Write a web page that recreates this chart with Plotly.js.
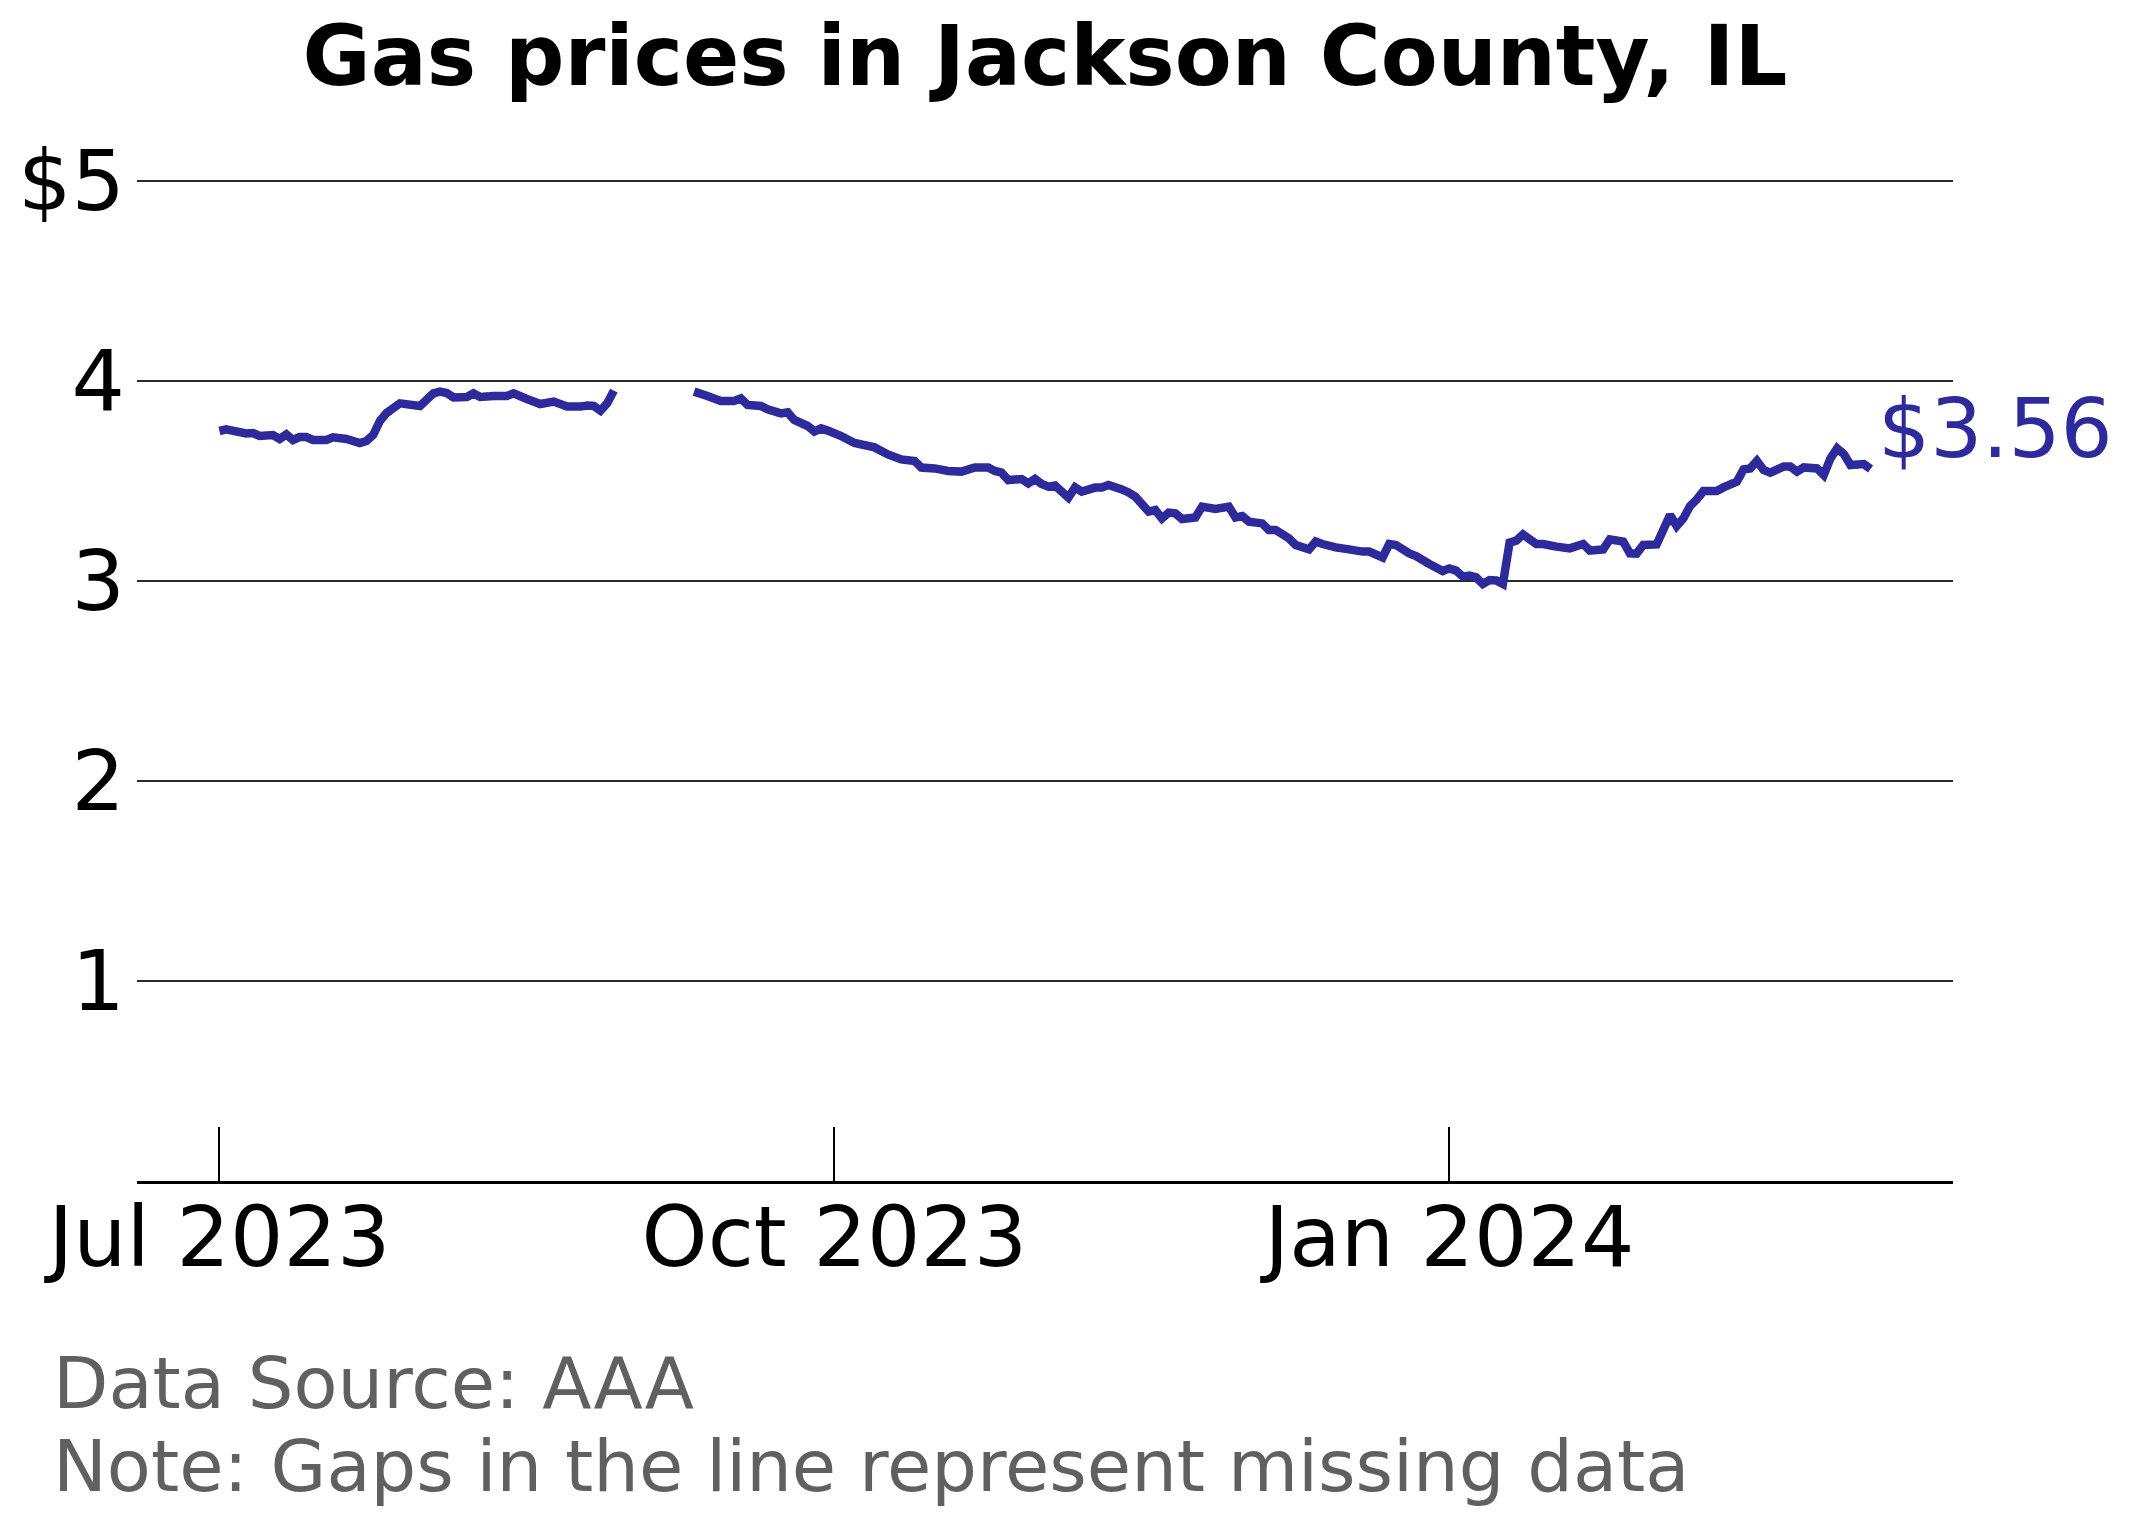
<!DOCTYPE html>
<html>
<head>
<meta charset="utf-8">
<script src="https://cdn.plot.ly/plotly-3.0.1.min.js"></script>
<style>
  html, body { margin: 0; padding: 0; background: #ffffff; }
  #chart { width: 2132px; height: 1524px; }
</style>
</head>
<body>
<div id="chart"></div>
<script>
// ── Datos: precio medio diario (USD/galón) ─────────────────────────────────
// null = día sin datos (hueco en la línea)
const fechas = [
  '2023-07-01', '2023-07-02', '2023-07-05', '2023-07-06', '2023-07-07', '2023-07-09',
  '2023-07-10', '2023-07-11', '2023-07-12', '2023-07-13', '2023-07-14', '2023-07-15',
  '2023-07-17', '2023-07-18', '2023-07-20', '2023-07-22', '2023-07-23', '2023-07-24',
  '2023-07-25', '2023-07-26', '2023-07-28', '2023-07-31', '2023-08-02', '2023-08-03',
  '2023-08-04', '2023-08-05', '2023-08-07', '2023-08-08', '2023-08-09', '2023-08-11',
  '2023-08-13', '2023-08-14', '2023-08-16', '2023-08-18', '2023-08-20', '2023-08-22',
  '2023-08-24', '2023-08-25', '2023-08-26', '2023-08-27', '2023-08-28', '2023-08-29',
  '2023-09-03',
  '2023-09-10', '2023-09-12', '2023-09-14', '2023-09-16', '2023-09-17', '2023-09-18',
  '2023-09-20', '2023-09-21', '2023-09-23', '2023-09-24', '2023-09-25', '2023-09-27',
  '2023-09-28', '2023-09-29', '2023-09-30', '2023-10-02', '2023-10-04', '2023-10-07',
  '2023-10-09', '2023-10-11', '2023-10-13', '2023-10-14', '2023-10-16', '2023-10-18',
  '2023-10-20', '2023-10-22', '2023-10-24', '2023-10-25', '2023-10-26', '2023-10-27',
  '2023-10-29', '2023-10-30', '2023-10-31', '2023-11-01', '2023-11-02', '2023-11-03',
  '2023-11-05', '2023-11-06', '2023-11-07', '2023-11-09', '2023-11-10', '2023-11-11',
  '2023-11-13', '2023-11-14', '2023-11-15', '2023-11-17', '2023-11-18', '2023-11-19',
  '2023-11-20', '2023-11-21', '2023-11-22', '2023-11-24', '2023-11-25', '2023-11-27',
  '2023-11-29', '2023-11-30', '2023-12-01', '2023-12-02', '2023-12-04', '2023-12-05',
  '2023-12-06', '2023-12-08', '2023-12-09', '2023-12-11', '2023-12-12', '2023-12-13',
  '2023-12-15', '2023-12-17', '2023-12-19', '2023-12-20', '2023-12-22', '2023-12-23',
  '2023-12-24', '2023-12-26', '2023-12-27', '2023-12-29', '2023-12-31', '2024-01-01',
  '2024-01-02', '2024-01-03', '2024-01-04', '2024-01-05', '2024-01-06', '2024-01-07',
  '2024-01-08', '2024-01-09', '2024-01-10', '2024-01-11', '2024-01-12', '2024-01-14',
  '2024-01-15', '2024-01-17', '2024-01-19', '2024-01-21', '2024-01-22', '2024-01-24',
  '2024-01-25', '2024-01-27', '2024-01-28', '2024-01-29', '2024-01-30', '2024-02-01',
  '2024-02-03', '2024-02-04', '2024-02-05', '2024-02-06', '2024-02-07', '2024-02-08',
  '2024-02-10', '2024-02-11', '2024-02-13', '2024-02-14', '2024-02-15', '2024-02-16',
  '2024-02-17', '2024-02-18', '2024-02-20', '2024-02-21', '2024-02-22', '2024-02-23',
  '2024-02-25', '2024-02-26', '2024-02-27', '2024-02-28', '2024-02-29', '2024-03-01',
  '2024-03-03', '2024-03-04'
];

const precios = [
  3.750, 3.758, 3.738, 3.740, 3.725, 3.730,
  3.710, 3.733, 3.705, 3.720, 3.720, 3.705,
  3.705, 3.718, 3.710, 3.690, 3.700, 3.730,
  3.800, 3.840, 3.888, 3.875, 3.938, 3.947,
  3.940, 3.918, 3.920, 3.938, 3.920, 3.925,
  3.925, 3.938, 3.910, 3.885, 3.897, 3.872,
  3.872, 3.877, 3.875, 3.852, 3.888, 3.952,
  null,
  3.947, 3.925, 3.900, 3.900, 3.913, 3.880,
  3.875, 3.858, 3.838, 3.843, 3.805, 3.775,
  3.747, 3.763, 3.752, 3.725, 3.690, 3.668,
  3.633, 3.608, 3.600, 3.567, 3.563, 3.550,
  3.547, 3.568, 3.568, 3.550, 3.542, 3.505,
  3.510, 3.488, 3.510, 3.485, 3.472, 3.477,
  3.417, 3.468, 3.447, 3.467, 3.468, 3.480,
  3.458, 3.443, 3.422, 3.347, 3.355, 3.313,
  3.342, 3.338, 3.310, 3.318, 3.372, 3.360,
  3.372, 3.318, 3.325, 3.297, 3.288, 3.255,
  3.255, 3.213, 3.180, 3.158, 3.197, 3.185,
  3.168, 3.158, 3.147, 3.147, 3.118, 3.185,
  3.180, 3.138, 3.125, 3.085, 3.050, 3.063,
  3.052, 3.022, 3.027, 3.018, 2.985, 3.005,
  3.003, 2.985, 3.192, 3.202, 3.233, 3.185,
  3.185, 3.172, 3.163, 3.185, 3.152, 3.158,
  3.208, 3.197, 3.138, 3.137, 3.180, 3.183,
  3.330, 3.275, 3.313, 3.375, 3.408, 3.450,
  3.450, 3.468, 3.497, 3.558, 3.563, 3.600,
  3.555, 3.542, 3.572, 3.572, 3.547, 3.568,
  3.563, 3.530, 3.613, 3.663, 3.635, 3.580,
  3.585, 3.560
];

const ticksFecha  = ['2023-07-01', '2023-10-01', '2024-01-01'];
const ticksFechaT = ['Jul 2023', 'Oct 2023', 'Jan 2024'];
const ticksPrecio  = [1, 2, 3, 4, 5];
const ticksPrecioT = ['1', '2', '3', '4', '$5'];

const COLOR_LINEA = '#2d2a9b';
const FUENTE      = 'DejaVu Sans, Verdana, sans-serif';

const ultimo = precios[precios.length - 1];

const trace = {
  type: 'scatter',
  mode: 'lines',
  x: fechas,
  y: precios,
  connectgaps: false,
  line: { color: COLOR_LINEA, width: 8.5, shape: 'linear', simplify: false },
  hoverinfo: 'skip'
};

const layout = {
  width: 2132,
  height: 1524,
  paper_bgcolor: '#ffffff',
  plot_bgcolor:  '#ffffff',
  font:   { family: FUENTE, color: '#000000', size: 84 },
  // y de 0 a 5.25 → 200 px por dólar, la rejilla de $5 queda en y≈181
  margin: { l: 137, r: 179, t: 131, b: 343, pad: 0 },
  showlegend: false,
  title: {
    text: '<b>Gas prices in Jackson County, IL</b>',
    font: { family: FUENTE, size: 83, color: '#000000' },
    x: 0.5, xref: 'paper', xanchor: 'center',
    y: 0.9635, yref: 'container', yanchor: 'middle'
  },
  xaxis: {
    type: 'date',
    range: ['2023-06-18 16:00', '2024-03-16 08:00'],
    tickvals: ticksFecha,
    ticktext: ticksFechaT,
    ticks: 'inside',
    ticklen: 54,
    tickwidth: 2,
    tickcolor: '#000000',
    ticklabelstandoff: -19,
    tickfont: { family: FUENTE, size: 84, color: '#000000' },
    showline: true,
    linecolor: '#000000',
    linewidth: 3,
    showgrid: false,
    zeroline: false,
    fixedrange: true
  },
  yaxis: {
    range: [0, 5.25],
    tickvals: ticksPrecio,
    ticktext: ticksPrecioT,
    ticks: '',
    ticklabelstandoff: 11,
    tickfont: { family: FUENTE, size: 84, color: '#000000' },
    showline: false,
    showgrid: true,
    gridcolor: '#2a2a2a',
    gridwidth: 1.2,
    zeroline: false,
    fixedrange: true
  },
  annotations: [
    {
      x: fechas[fechas.length - 1], y: ultimo,
      xref: 'x', yref: 'y',
      text: '$' + ultimo.toFixed(2),
      showarrow: false,
      xanchor: 'left', yanchor: 'middle',
      xshift: 5, yshift: 41,
      font: { family: FUENTE, size: 82, color: COLOR_LINEA }
    },
    {
      x: -0.0475, y: -0.1924, xref: 'paper', yref: 'paper',
      text: 'Data Source: AAA',
      showarrow: false, xanchor: 'left', yanchor: 'middle', align: 'left',
      font: { family: FUENTE, size: 72, color: '#606060' }
    },
    {
      x: -0.0475, y: -0.2714, xref: 'paper', yref: 'paper',
      text: 'Note: Gaps in the line represent missing data',
      showarrow: false, xanchor: 'left', yanchor: 'middle', align: 'left',
      font: { family: FUENTE, size: 72, color: '#606060' }
    }
  ]
};

Plotly.newPlot('chart', [trace], layout, { displayModeBar: false, staticPlot: true });
</script>
</body>
</html>
